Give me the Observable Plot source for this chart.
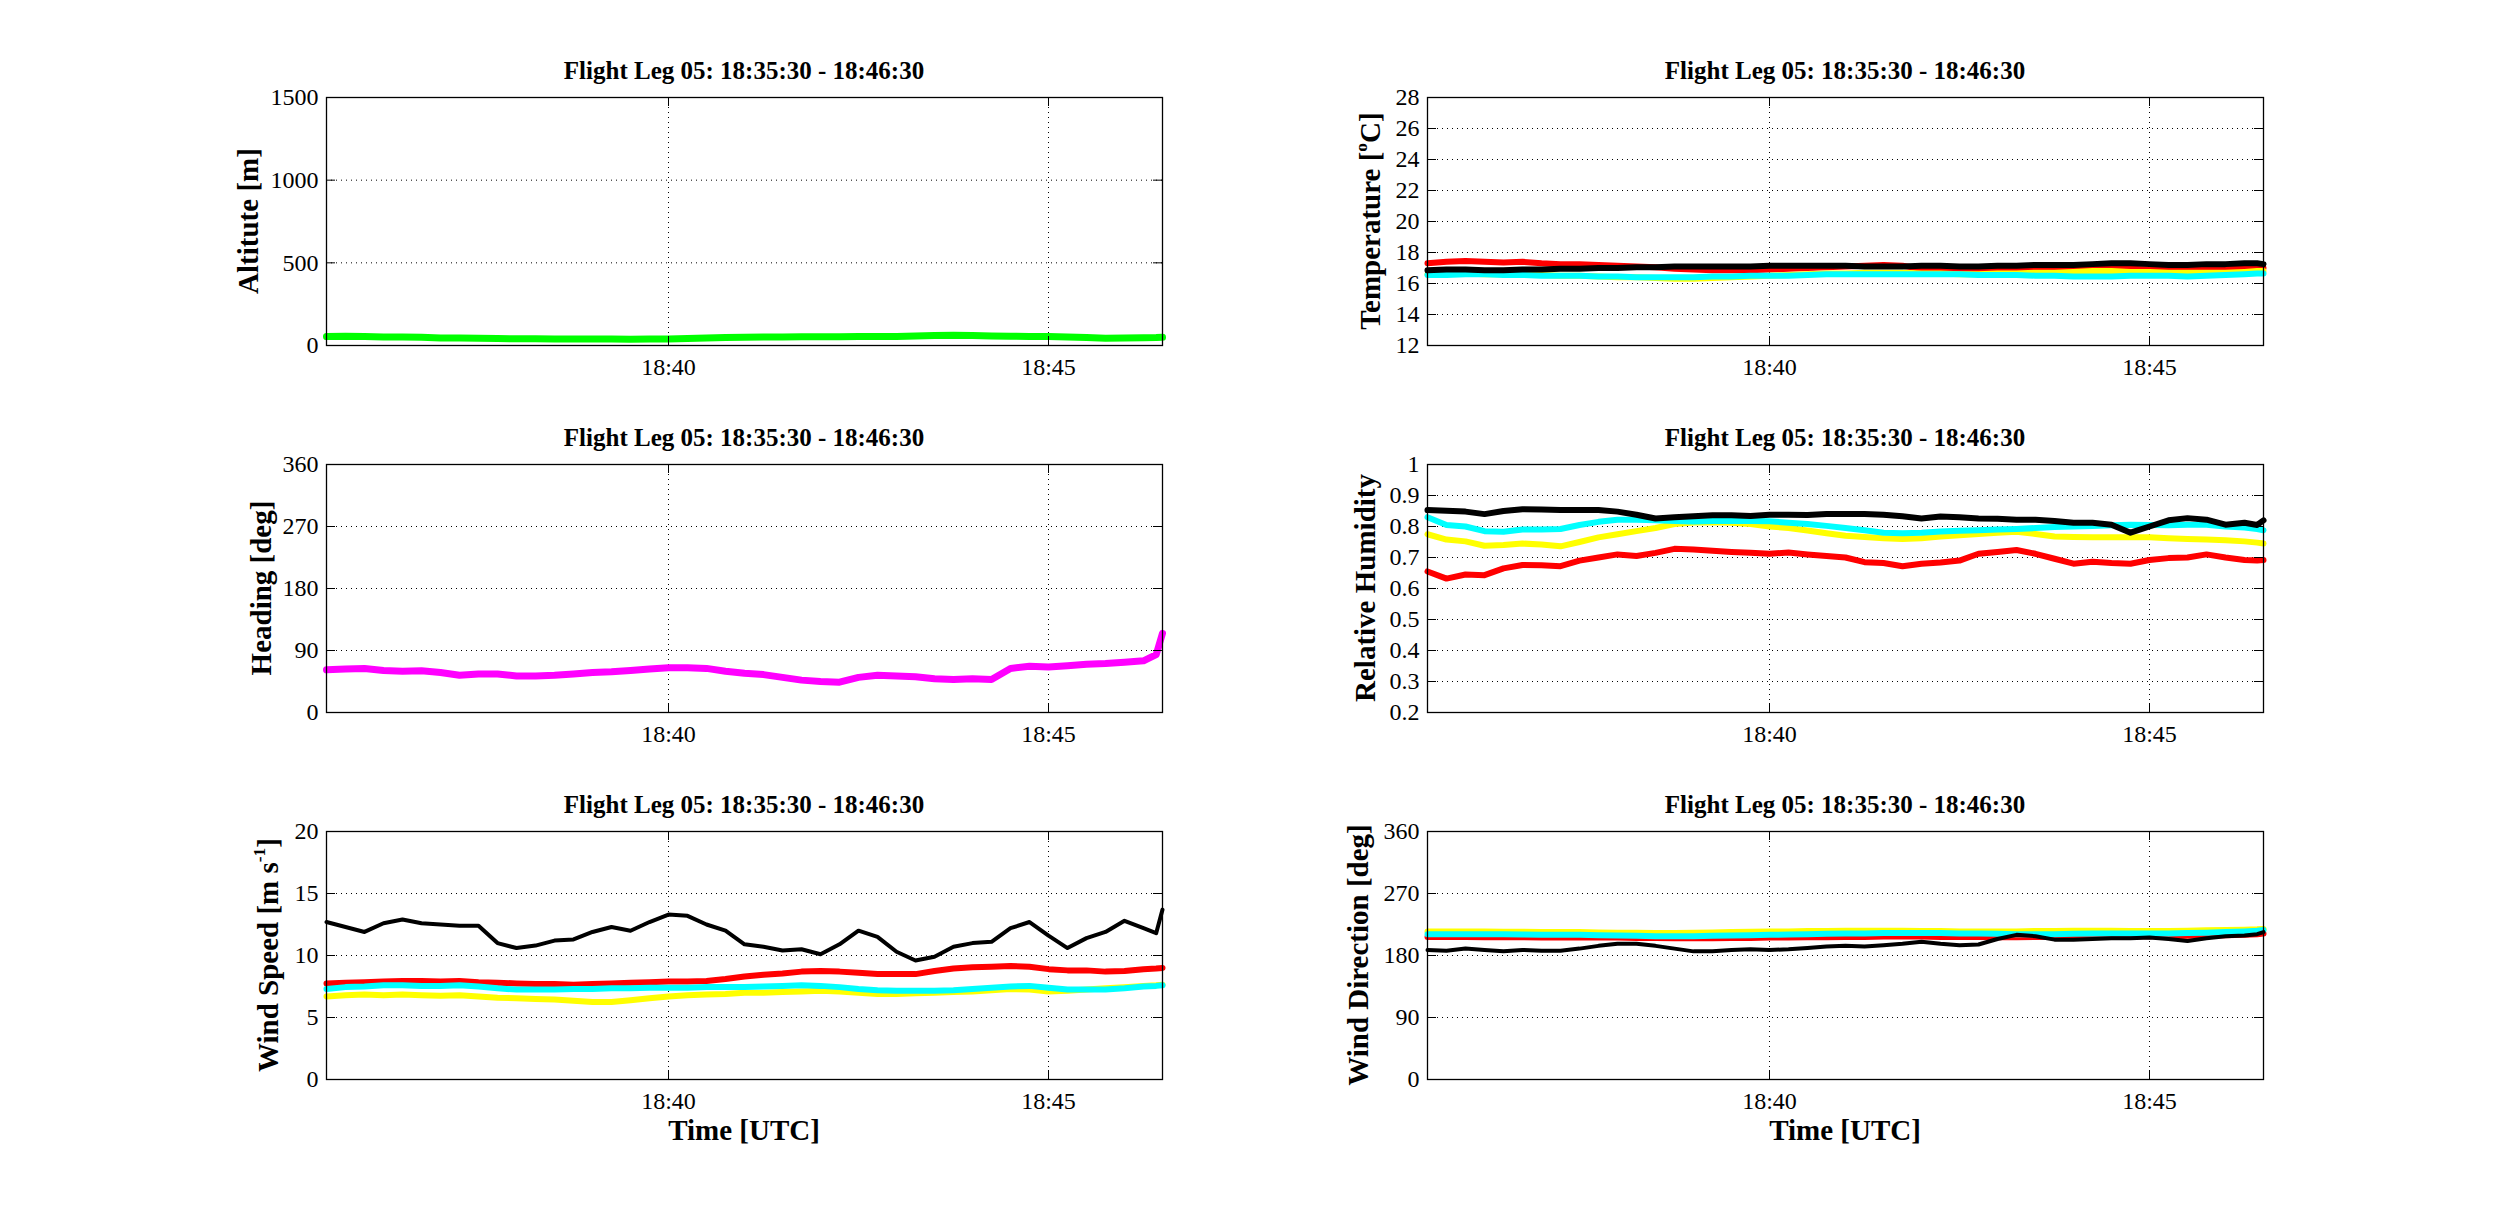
<!DOCTYPE html>
<html>
<head>
<meta charset="utf-8">
<script src="https://cdn.jsdelivr.net/npm/d3@7"></script>
<script src="https://cdn.jsdelivr.net/npm/@observablehq/plot@0.6"></script>
<style>
  body { margin: 0; background: #fff; }
  #fig { position: relative; width: 2500px; height: 1224px; background: #fff; color: #000;
         font-family: "Liberation Serif", "Times New Roman", serif; }
  .panel { position: absolute; }
  .title { position: absolute; font-size: 25px; font-weight: bold; line-height: 26px; white-space: nowrap; transform: translateX(-50%); }
  .xlabel { position: absolute; font-size: 29px; font-weight: bold; line-height: 29px; white-space: nowrap; transform: translateX(-50%); }
  .ylabel { position: absolute; font-size: 29px; font-weight: bold; line-height: 29px; white-space: nowrap;
            transform: translate(-50%, -50%) rotate(-90deg); }
  sup { font-size: 60%; vertical-align: 0.7em; line-height: 0; }
</style>
</head>
<body>
<div id="fig"></div>
<script>
// flight leg 05, samples every 15 s (plus one at 655 s)
const legTitle = "Flight Leg 05: 18:35:30 - 18:46:30";
const legStart = "18:35:30";
const legEnd = "18:46:30";
const xTickLabels = ["18:40", "18:45"];
const sampleSec = [0, 15, 30, 45, 60, 75, 90, 105, 120, 135, 150, 165, 180, 195, 210, 225, 240, 255, 270, 285,
  300, 315, 330, 345, 360, 375, 390, 405, 420, 435, 450, 465, 480, 495, 510, 525, 540, 555, 570, 585,
  600, 615, 630, 645, 655, 660];

const altitude = [54, 56, 55, 52, 51, 50, 46, 45, 44, 42, 41, 41, 40, 39, 40, 40, 38, 39, 40, 42,
  45, 48, 50, 51, 52, 53, 53, 53, 54, 54, 55, 57, 60, 62, 60, 58, 56, 55, 54, 52, 48, 44, 45, 47, 48, 50];

const heading = [62, 63, 64, 61, 60, 60.5, 58, 54, 56, 56, 53, 53, 54, 56, 58, 59, 61, 63, 65, 65,
  64, 60, 57, 55, 51, 47, 45, 44, 51, 54, 53, 52, 49, 48, 49, 48, 64, 67, 66, 68, 70, 71, 73, 75, 84, 115];

const tempRed = [17.3, 17.4, 17.45, 17.4, 17.35, 17.4, 17.3, 17.25, 17.25, 17.2, 17.15, 17.1, 17.05, 16.95, 16.9,
  16.85, 16.85, 16.85, 16.9, 16.95, 17.0, 17.05, 17.1, 17.15, 17.2, 17.15, 16.95, 16.9, 16.9, 16.9, 16.85, 16.85,
  16.85, 16.9, 16.9, 16.95, 17.0, 16.95, 16.9, 16.85, 16.85, 16.9, 16.95, 17.0, 17.0, 17.0];
const tempYellow = [16.6, 16.6, 16.65, 16.6, 16.6, 16.55, 16.55, 16.5, 16.5, 16.45, 16.4, 16.4, 16.35, 16.3, 16.3,
  16.35, 16.4, 16.45, 16.5, 16.55, 16.6, 16.65, 16.65, 16.7, 16.7, 16.7, 16.65, 16.65, 16.6, 16.6, 16.65, 16.65,
  16.7, 16.7, 16.75, 16.8, 16.8, 16.75, 16.75, 16.7, 16.7, 16.7, 16.7, 16.75, 16.8, 16.8];
const tempCyan = [16.55, 16.55, 16.6, 16.6, 16.55, 16.55, 16.5, 16.5, 16.5, 16.45, 16.45, 16.4, 16.4, 16.4, 16.4,
  16.45, 16.45, 16.5, 16.5, 16.5, 16.55, 16.6, 16.6, 16.6, 16.6, 16.6, 16.6, 16.6, 16.6, 16.55, 16.55, 16.55,
  16.5, 16.5, 16.45, 16.45, 16.45, 16.5, 16.5, 16.5, 16.45, 16.5, 16.55, 16.6, 16.65, 16.65];
const tempBlack = [16.85, 16.9, 16.9, 16.85, 16.85, 16.9, 16.9, 16.95, 16.95, 17.0, 17.0, 17.05, 17.05, 17.1, 17.1,
  17.1, 17.1, 17.1, 17.15, 17.15, 17.15, 17.15, 17.15, 17.1, 17.1, 17.1, 17.15, 17.15, 17.1, 17.1, 17.15, 17.15,
  17.2, 17.2, 17.2, 17.25, 17.3, 17.3, 17.25, 17.2, 17.2, 17.25, 17.25, 17.3, 17.3, 17.25];

const rhRed = [0.655, 0.632, 0.645, 0.643, 0.665, 0.676, 0.675, 0.672, 0.690, 0.700, 0.710, 0.705, 0.715, 0.728,
  0.726, 0.722, 0.718, 0.715, 0.712, 0.716, 0.710, 0.705, 0.700, 0.685, 0.682, 0.672, 0.680, 0.684, 0.690, 0.712,
  0.718, 0.724, 0.712, 0.696, 0.680, 0.686, 0.682, 0.680, 0.692, 0.698, 0.700, 0.710, 0.700, 0.692, 0.690, 0.692];
const rhYellow = [0.775, 0.758, 0.752, 0.738, 0.740, 0.745, 0.742, 0.736, 0.750, 0.765, 0.775, 0.785, 0.795, 0.808,
  0.813, 0.814, 0.812, 0.808, 0.800, 0.795, 0.787, 0.778, 0.770, 0.766, 0.762, 0.760, 0.762, 0.768, 0.772, 0.776,
  0.780, 0.783, 0.776, 0.768, 0.766, 0.765, 0.765, 0.765, 0.765, 0.762, 0.760, 0.758, 0.756, 0.752, 0.748, 0.745];
const rhCyan = [0.830, 0.805, 0.800, 0.785, 0.783, 0.790, 0.790, 0.792, 0.805, 0.815, 0.822, 0.822, 0.820, 0.818,
  0.816, 0.818, 0.818, 0.818, 0.817, 0.812, 0.808, 0.802, 0.795, 0.788, 0.780, 0.778, 0.780, 0.784, 0.786, 0.788,
  0.790, 0.792, 0.795, 0.798, 0.800, 0.802, 0.804, 0.806, 0.805, 0.804, 0.806, 0.806, 0.800, 0.797, 0.792, 0.788];
const rhBlack = [0.853, 0.851, 0.848, 0.840, 0.850, 0.856, 0.855, 0.853, 0.853, 0.853, 0.848, 0.838, 0.826, 0.830,
  0.833, 0.836, 0.836, 0.834, 0.838, 0.838, 0.837, 0.840, 0.840, 0.840, 0.838, 0.833, 0.826, 0.832, 0.830, 0.826,
  0.825, 0.822, 0.822, 0.818, 0.812, 0.812, 0.806, 0.780, 0.800, 0.820, 0.827, 0.822, 0.806, 0.812, 0.805, 0.820];

const wsRed = [7.75, 7.8, 7.85, 7.9, 7.95, 7.95, 7.9, 7.95, 7.85, 7.8, 7.75, 7.7, 7.7, 7.65, 7.7, 7.75, 7.8, 7.85,
  7.9, 7.9, 7.95, 8.1, 8.3, 8.45, 8.55, 8.7, 8.75, 8.7, 8.6, 8.5, 8.5, 8.5, 8.75, 8.95, 9.05, 9.1, 9.15, 9.1, 8.9,
  8.8, 8.8, 8.7, 8.75, 8.9, 8.95, 9.0];
const wsYellow = [6.7, 6.8, 6.85, 6.8, 6.85, 6.8, 6.75, 6.8, 6.7, 6.6, 6.55, 6.5, 6.45, 6.35, 6.25, 6.25, 6.4, 6.55,
  6.7, 6.8, 6.85, 6.9, 7.0, 7.0, 7.05, 7.1, 7.15, 7.1, 7.0, 6.9, 6.9, 6.95, 7.0, 7.05, 7.1, 7.2, 7.3, 7.25, 7.1,
  7.15, 7.25, 7.35, 7.45, 7.55, 7.6, 7.65];
const wsCyan = [7.3, 7.45, 7.5, 7.6, 7.6, 7.55, 7.55, 7.6, 7.5, 7.35, 7.25, 7.25, 7.25, 7.3, 7.3, 7.35, 7.35, 7.4,
  7.4, 7.4, 7.45, 7.45, 7.45, 7.5, 7.55, 7.6, 7.55, 7.45, 7.3, 7.2, 7.15, 7.15, 7.15, 7.2, 7.3, 7.4, 7.5, 7.55, 7.4,
  7.25, 7.25, 7.25, 7.35, 7.5, 7.55, 7.6];
const wsBlack = [12.7, 12.3, 11.9, 12.6, 12.9, 12.6, 12.5, 12.4, 12.4, 11.0, 10.6, 10.8, 11.2, 11.3, 11.9, 12.3,
  12.0, 12.7, 13.3, 13.2, 12.5, 12.0, 10.9, 10.7, 10.4, 10.5, 10.1, 10.9, 12.0, 11.5, 10.3, 9.6, 9.9, 10.7, 11.0,
  11.1, 12.2, 12.7, 11.6, 10.6, 11.4, 11.9, 12.8, 12.2, 11.8, 13.7];

const wdRed = [207, 207, 207, 206.5, 206.5, 206.5, 206, 206, 206, 206, 206, 205.5, 205.5, 205, 205, 205, 205.5,
  205.5, 206, 206, 206.5, 206.5, 207, 207, 207.5, 207.5, 207.5, 207, 207, 207, 206.5, 206.5, 207, 207, 207.5,
  207.5, 208, 208, 208, 208, 208.5, 209, 209.5, 210, 211, 212];
const wdYellow = [215, 215, 215, 215, 214.5, 214.5, 214, 214, 214, 213.5, 213, 213, 212.5, 212.5, 213, 213.5, 214,
  214.5, 215, 215, 215.5, 215.5, 216, 216, 216, 216, 215.5, 215.5, 215, 215, 215, 215, 215.5, 215.5, 216, 216, 216,
  215.5, 215.5, 215.5, 216, 216.5, 217, 217.5, 218, 218.5];
const wdCyan = [211, 211, 211, 211, 211, 210.5, 210, 210, 210, 209.5, 209, 208.5, 208, 208, 208, 208.5, 209, 209.5,
  210, 210.5, 211, 211.5, 212, 212, 212.5, 212.5, 212.5, 212.5, 212, 212, 211.5, 211, 211, 211, 211.5, 212, 212,
  212, 212, 212, 212.5, 213, 214, 215, 216, 217];
const wdBlack = [188, 187, 190, 188, 186, 188, 187, 187, 190, 194, 197, 197, 194, 190, 186, 186, 188, 189, 188, 189,
  191, 193, 194, 193, 195, 197, 200, 197, 195, 196, 204, 210, 208, 203, 203, 204, 205, 205, 206, 204, 201, 205, 208,
  209, 211, 214];

const altTicks = [0, 500, 1000, 1500];
const tempTicks = [12, 14, 16, 18, 20, 22, 24, 26, 28];
const degTicks = [0, 90, 180, 270, 360];
const rhTicks = [0.2, 0.3, 0.4, 0.5, 0.6, 0.7, 0.8, 0.9, 1];
const wsTicks = [0, 5, 10, 15, 20];

const parseTime = d3.utcParse("%Y-%m-%d %H:%M:%S");
const t0 = parseTime("2000-01-01 " + legStart);
const t1 = parseTime("2000-01-01 " + legEnd);
const xTicks = xTickLabels.map(s => parseTime("2000-01-01 " + s + ":00"));
const times = sampleSec.map(s => new Date(+t0 + s * 1000));

const fig = document.getElementById("fig");
const frameH = 248;
const cols = [{svgLeft: 200, ml: 126, mr: 38, cx: 744}, {svgLeft: 1300, ml: 127, mr: 37, cx: 1845}];
const rowTops = [97, 464, 831];
const mt = 20, mb = 50;

function panel(col, row, cfg) {
  const c = cols[col];
  const frameW = 1000 - c.ml - c.mr;
  const marks = [
    Plot.gridX(xTicks, {stroke: "black", strokeOpacity: 1, strokeWidth: 1, strokeDasharray: "1,4"}),
    Plot.gridY(cfg.ticks, {stroke: "black", strokeOpacity: 1, strokeWidth: 1, strokeDasharray: "1,4"})
  ];
  for (const s of cfg.series) {
    const rows = times.map((t, i) => ({t, v: s.values[i]}));
    marks.push(Plot.line(rows, {x: "t", y: "v", stroke: s.color, strokeWidth: s.width}));
  }
  marks.push(
    Plot.tickX(xTicks, {x: d => d, stroke: "black", insetTop: frameH - 9}),
    Plot.tickX(xTicks, {x: d => d, stroke: "black", insetBottom: frameH - 9}),
    Plot.tickY(cfg.ticks, {y: d => d, stroke: "black", insetRight: frameW - 9}),
    Plot.tickY(cfg.ticks, {y: d => d, stroke: "black", insetLeft: frameW - 9}),
    Plot.axisX(xTicks, {anchor: "bottom", label: null, tickSize: 0, tickPadding: 12, tickFormat: d3.utcFormat("%H:%M")}),
    Plot.axisY(cfg.ticks, {anchor: "left", label: null, tickSize: 0, tickPadding: 8, tickFormat: d => String(d)}),
    Plot.frame({stroke: "black", strokeWidth: 1.3})
  );
  const svg = Plot.plot({
    width: 1000,
    height: frameH + mt + mb,
    marginLeft: c.ml,
    marginRight: c.mr,
    marginTop: mt,
    marginBottom: mb,
    x: {type: "utc", domain: [t0, t1], axis: null, label: null},
    y: {domain: cfg.domain, axis: null, label: null},
    style: {fontFamily: "'Liberation Serif', 'Times New Roman', serif", fontSize: "24px", color: "black", background: "transparent"},
    marks
  });
  const wrap = document.createElement("div");
  wrap.className = "panel";
  wrap.style.left = c.svgLeft + "px";
  wrap.style.top = (rowTops[row] - mt) + "px";
  wrap.appendChild(svg);
  fig.appendChild(wrap);

  const title = document.createElement("div");
  title.className = "title";
  title.textContent = legTitle;
  title.style.left = c.cx + "px";
  title.style.top = (rowTops[row] - 39) + "px";
  fig.appendChild(title);

  const yl = document.createElement("div");
  yl.className = "ylabel";
  yl.innerHTML = cfg.label;
  yl.style.left = cfg.labelX + "px";
  yl.style.top = (rowTops[row] + frameH / 2) + "px";
  fig.appendChild(yl);

  if (row === 2) {
    const xl = document.createElement("div");
    xl.className = "xlabel";
    xl.textContent = "Time [UTC]";
    xl.style.left = c.cx + "px";
    xl.style.top = "1116px";
    fig.appendChild(xl);
  }
}

panel(0, 0, {domain: [0, 1500], ticks: altTicks, label: "Altitute [m]", labelX: 248,
  series: [{values: altitude, color: "#00ff00", width: 7}]});
panel(1, 0, {domain: [12, 28], ticks: tempTicks, label: "Temperature [<sup>o</sup>C]", labelX: 1370,
  series: [
    {values: tempRed, color: "#ff0000", width: 6},
    {values: tempYellow, color: "#ffff00", width: 6},
    {values: tempCyan, color: "#00ffff", width: 6},
    {values: tempBlack, color: "#000000", width: 6}
  ]});
panel(0, 1, {domain: [0, 360], ticks: degTicks, label: "Heading [deg]", labelX: 261,
  series: [{values: heading, color: "#ff00ff", width: 7}]});
panel(1, 1, {domain: [0.2, 1], ticks: rhTicks, label: "Relative Humidity", labelX: 1365,
  series: [
    {values: rhRed, color: "#ff0000", width: 6},
    {values: rhYellow, color: "#ffff00", width: 6},
    {values: rhCyan, color: "#00ffff", width: 6},
    {values: rhBlack, color: "#000000", width: 6}
  ]});
panel(0, 2, {domain: [0, 20], ticks: wsTicks, label: "Wind Speed [m s<sup>-1</sup>]", labelX: 268,
  series: [
    {values: wsRed, color: "#ff0000", width: 6},
    {values: wsYellow, color: "#ffff00", width: 6},
    {values: wsCyan, color: "#00ffff", width: 6},
    {values: wsBlack, color: "#000000", width: 4}
  ]});
panel(1, 2, {domain: [0, 360], ticks: degTicks, label: "Wind Direction [deg]", labelX: 1358,
  series: [
    {values: wdRed, color: "#ff0000", width: 6},
    {values: wdYellow, color: "#ffff00", width: 6},
    {values: wdCyan, color: "#00ffff", width: 6},
    {values: wdBlack, color: "#000000", width: 4}
  ]});
</script>
</body>
</html>
